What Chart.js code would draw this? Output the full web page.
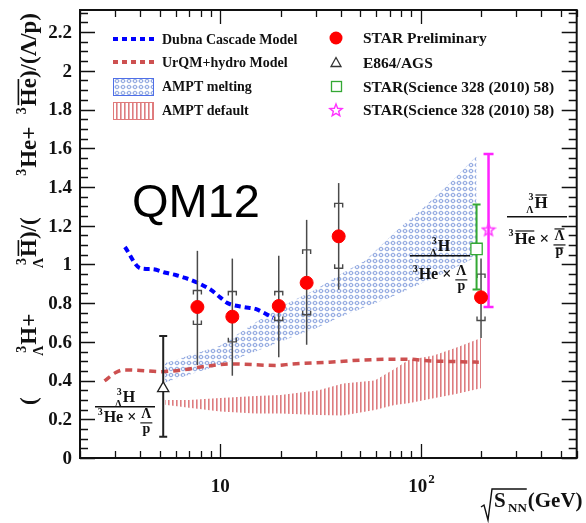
<!DOCTYPE html>
<html>
<head>
<meta charset="utf-8">
<script src="https://cdn.jsdelivr.net/npm/chart.js@4.4.1/dist/chart.umd.min.js"></script>
<style>
  html, body { margin: 0; padding: 0; background: #fff; }
  canvas { display: block; }
</style>
</head>
<body>
<canvas id="ratioChart" width="586" height="523"></canvas>
<script>
// STAR preliminary points (BES energies + 200 GeV)
const starEnergy = [7.7, 11.5, 19.6, 27, 39, 200];
const starRatio = [0.78, 0.73, 0.785, 0.905, 1.145, 0.83];
const starStatLow = [0.48, 0.425, 0.52, 0.585, 0.87, 0.62];
const starStatHigh = [1.07, 1.03, 1.045, 1.23, 1.42, 1.03];
const starSysLow = [0.69, 0.60, 0.71, 0.74, 0.98, 0.71];
const starSysHigh = [0.865, 0.86, 0.86, 1.075, 1.315, 0.95];

// E864 at AGS
const agsEnergy = [5.2];
const agsRatio = [0.36];
const agsLow = [0.11];
const agsHigh = [0.63];

// STAR Science 328 (2010) 58, matter and antimatter ratios
const sciEnergy = [190];
const sciRatio = [1.08];
const sciLow = [0.87];
const sciHigh = [1.31];
const antiEnergy = [218];
const antiRatio = [1.18];
const antiLow = [0.78];
const antiHigh = [1.57];

// model curves
const dubnaEnergy = [3.35, 4.0, 4.6, 5.35, 6.0, 6.7, 7.76, 9.0, 10.0, 10.9, 13.1, 15.0, 16.5, 18.4];
const dubnaRatio = [1.09, 0.98, 0.975, 0.957, 0.945, 0.93, 0.904, 0.868, 0.83, 0.80, 0.78, 0.77, 0.75, 0.725];
const urqmdEnergy = [2.65, 3.0, 3.3, 4.0, 5.0, 6.5, 8.0, 11.5, 19, 23, 35, 51, 70, 90, 105, 150, 195];
const urqmdRatio = [0.398, 0.44, 0.455, 0.452, 0.446, 0.455, 0.47, 0.486, 0.478, 0.486, 0.495, 0.506, 0.51, 0.51, 0.503, 0.498, 0.495];

// AMPT bands
const meltEnergy = [5.3, 7, 10, 15, 20, 25, 30, 40, 53, 75, 100, 140, 190];
const meltHigh = [0.49, 0.53, 0.58, 0.70, 0.78, 0.83, 0.87, 0.95, 1.02, 1.17, 1.28, 1.42, 1.56];
const meltLow = [0.39, 0.43, 0.48, 0.55, 0.60, 0.64, 0.67, 0.73, 0.78, 0.84, 0.90, 0.97, 1.04];
const defEnergy = [5.3, 7, 10, 15, 20, 31, 41, 59, 74, 87, 116, 150, 200];
const defHigh = [0.30, 0.30, 0.31, 0.32, 0.325, 0.35, 0.385, 0.40, 0.46, 0.506, 0.53, 0.57, 0.62];
const defLow = [0.275, 0.26, 0.24, 0.23, 0.23, 0.222, 0.219, 0.248, 0.274, 0.283, 0.308, 0.33, 0.36];

// axis labels
const yTickLabels = ['0', '0.2', '0.4', '0.6', '0.8', '1', '1.2', '1.4', '1.6', '1.8', '2', '2.2'];
const xMajor = [10, 100];

const SERIF = '"Liberation Serif", "DejaVu Serif", serif';
const INK = '#111';
const font = (size) => `bold ${size}px ${SERIF}`;
const pts = (xs, ys) => xs.map((x, i) => ({ x: x, y: ys[i] }));

const canvas = document.getElementById('ratioChart');
const ctx = canvas.getContext('2d');

// hatch fills
function makeTile(w, h, paint) {
  const c = document.createElement('canvas');
  c.width = w; c.height = h;
  paint(c.getContext('2d'));
  return c;
}
const blueTile = makeTile(6, 6, (g) => {
  g.strokeStyle = 'rgba(95,130,210,0.7)';
  g.lineWidth = 1;
  g.beginPath(); g.arc(3, 3, 1.8, 0, Math.PI * 2); g.stroke();
  g.fillStyle = 'rgba(120,150,220,0.3)';
  g.fillRect(0, 2.5, 6, 1);
});
const redTile = makeTile(4, 4, (g) => {
  g.fillStyle = 'rgba(214,92,96,0.8)';
  g.fillRect(0, 0, 1.6, 4);
});
const bluePattern = ctx.createPattern(blueTile, 'repeat');
const redPattern = ctx.createPattern(redTile, 'repeat');

// open five-point star
const starImg = makeTile(16, 16, (g) => {
  g.strokeStyle = '#ff33ff';
  g.lineWidth = 1.4;
  g.beginPath();
  for (let i = 0; i < 10; i++) {
    const r = i % 2 ? 2.8 : 6.5;
    const a = -Math.PI / 2 + i * Math.PI / 5;
    const px = 8 + r * Math.cos(a), py = 8.5 + r * Math.sin(a);
    i ? g.lineTo(px, py) : g.moveTo(px, py);
  }
  g.closePath(); g.stroke();
});

// ---- text helpers -------------------------------------------------------
function bar(g, x0, x1, y, size) {
  g.fillRect(x0, y, x1 - x0, Math.max(1, size * 0.07));
}

// nucleus with left mass number (and Λ below it for hypernuclei)
function iso(g, x, y, p, size, dry) {
  const small = Math.round(size * 0.6);
  g.font = font(small);
  const w3 = g.measureText('3').width;
  const wl = p.hyper ? g.measureText('Λ').width : 0;
  const pre = Math.max(w3, wl) + 1;
  if (!dry) {
    g.fillText('3', x + pre - 1 - w3, y - size * 0.45);
    if (p.hyper) g.fillText('Λ', x + pre - 1 - wl, y + size * 0.3);
  }
  g.font = font(size);
  const ws = g.measureText(p.iso).width;
  if (!dry) {
    g.fillText(p.iso, x + pre, y);
    if (p.anti) bar(g, x + pre + 1, x + pre + ws - 1, y - size * 0.8, size);
  }
  return pre + ws;
}

// small stacked Λ/p
function miniFrac(g, x, y, p, size, dry) {
  const s = Math.round(size * 0.85);
  g.font = font(s);
  const wt = g.measureText('Λ').width, wb = g.measureText('p').width;
  const w = Math.max(wt, wb) + 2;
  if (!dry) {
    g.fillText('Λ', x + (w - wt) / 2, y - size * 0.22);
    g.fillText('p', x + (w - wb) / 2, y + size * 0.66);
    bar(g, x, x + w, y + size * 0.02, size);
    if (p.anti) {
      bar(g, x + (w - wt) / 2, x + (w + wt) / 2, y - size * 0.92, size);
      bar(g, x + (w - wb) / 2, x + (w + wb) / 2, y + size * 0.2, size);
    }
  }
  return w;
}

// lays out a row of text pieces; {gap: w} pieces take w shares of the spare room
function run(g, x, y, parts, size, dry, gap = 0) {
  let cx = x;
  for (const p of parts) {
    if (typeof p === 'string') {
      g.font = font(size);
      if (!dry) g.fillText(p, cx, y);
      cx += g.measureText(p).width;
    } else if (p.gap) {
      cx += gap * p.gap;
    } else if (p.iso) {
      cx += iso(g, cx, y, p, size, dry);
    } else if (p.frac) {
      cx += miniFrac(g, cx, y, p, size, dry);
    }
  }
  return cx - x;
}

function runCentered(g, cx, y, parts, size) {
  const w = run(g, 0, 0, parts, size, true);
  run(g, cx - w / 2, y, parts, size, false);
}

function fraction(g, f, anti) {
  const num = [{ iso: 'H', hyper: true, anti: anti }];
  const den = [{ iso: 'He', anti: anti }, ' × ', { frac: true, anti: anti }];
  g.fillStyle = INK;
  runCentered(g, f.cx, f.numBase, num, f.size);
  g.fillRect(f.cx - f.half, f.lineY, f.half * 2, 1.5);
  runCentered(g, f.cx, f.denBase, den, f.size);
}

// ---- error bars -----------------------------------------------------------
function vbar(g, x, y0, y1, color, width, cap) {
  g.strokeStyle = color;
  g.lineWidth = width;
  g.beginPath();
  g.moveTo(x, y0); g.lineTo(x, y1);
  if (cap) {
    g.moveTo(x - cap, y0); g.lineTo(x + cap, y0);
    g.moveTo(x - cap, y1); g.lineTo(x + cap, y1);
  }
  g.stroke();
}

const errorBars = {
  id: 'errorBars',
  beforeDatasetDraw(chart, args) {
    if (args.index !== 3) return;
    const g = chart.ctx, xs = chart.scales.x, ys = chart.scales.y;
    g.save();
    starEnergy.forEach((e, i) => {
      const x = xs.getPixelForValue(e);
      vbar(g, x, ys.getPixelForValue(starStatLow[i]), ys.getPixelForValue(starStatHigh[i]), '#4a4a4a', 1.5, 0);
      // systematic brackets
      const hi = ys.getPixelForValue(starSysHigh[i]);
      const lo = ys.getPixelForValue(starSysLow[i]);
      g.lineWidth = 1.4;
      g.beginPath();
      g.moveTo(x - 4, hi + 4); g.lineTo(x - 4, hi); g.lineTo(x + 4, hi); g.lineTo(x + 4, hi + 4);
      g.moveTo(x - 4, lo - 4); g.lineTo(x - 4, lo); g.lineTo(x + 4, lo); g.lineTo(x + 4, lo - 4);
      g.stroke();
    });
    agsEnergy.forEach((e, i) => {
      vbar(g, xs.getPixelForValue(e), ys.getPixelForValue(agsLow[i]), ys.getPixelForValue(agsHigh[i]), '#222', 2, 4);
    });
    sciEnergy.forEach((e, i) => {
      vbar(g, xs.getPixelForValue(e), ys.getPixelForValue(sciLow[i]), ys.getPixelForValue(sciHigh[i]), '#34a834', 2, 4);
    });
    antiEnergy.forEach((e, i) => {
      vbar(g, xs.getPixelForValue(e), ys.getPixelForValue(antiLow[i]), ys.getPixelForValue(antiHigh[i]), '#ff22ff', 2.5, 5);
    });
    g.restore();
  }
};

// ---- frame, ticks, labels, legend, annotations --------------------------
const decorations = {
  id: 'decorations',
  afterDatasetsDraw(chart) {
    const g = chart.ctx, a = chart.chartArea;
    const xs = chart.scales.x, ys = chart.scales.y;
    g.save();
    g.strokeStyle = INK;
    g.lineWidth = 1.3;
    g.beginPath();
    // y ticks on both sides
    for (let k = 0; k <= 46; k++) {
      const v = k * 0.05;
      if (v > ys.max) break;
      const y = Math.round(ys.getPixelForValue(v)) + 0.5;
      const len = k % 4 === 0 ? 15 : 8;
      g.moveTo(a.left, y); g.lineTo(a.left + len, y);
      g.moveTo(a.right, y); g.lineTo(a.right - len, y);
    }
    // x ticks on bottom and top
    for (let dec = 1; dec <= 100; dec *= 10) {
      for (let m = 1; m <= 9; m++) {
        const v = m * dec;
        if (v < xs.min || v > xs.max) continue;
        const x = Math.round(xs.getPixelForValue(v)) + 0.5;
        const len = m === 1 ? 14 : 7;
        g.moveTo(x, a.bottom); g.lineTo(x, a.bottom - len);
        g.moveTo(x, a.top); g.lineTo(x, a.top + len);
      }
    }
    g.stroke();
    g.lineWidth = 2;
    g.strokeRect(a.left, a.top, a.right - a.left, a.bottom - a.top);

    // tick labels
    g.fillStyle = INK;
    g.font = font(19);
    g.textAlign = 'right';
    g.textBaseline = 'middle';
    yTickLabels.forEach((t) => {
      g.fillText(t, a.left - 8, ys.getPixelForValue(parseFloat(t)) + 1);
    });
    g.textAlign = 'left';
    g.textBaseline = 'alphabetic';
    xMajor.forEach((v) => {
      const x = xs.getPixelForValue(v);
      g.font = font(19);
      const w10 = g.measureText('10').width;
      if (v === 10) {
        g.fillText('10', x - w10 / 2, a.bottom + 34);
      } else {
        g.fillText('10', x - w10 / 2 - 3, a.bottom + 34);
        g.font = font(13);
        g.fillText('2', x + w10 / 2 - 2, a.bottom + 25);
      }
    });

    // x title: √S_NN (GeV)
    g.font = font(21);
    g.fillText('S', 494, 507);
    g.font = font(13);
    g.fillText('NN', 508, 512);
    const nnEnd = 508 + g.measureText('NN').width;
    g.font = font(21);
    g.fillText('(GeV)', nnEnd + 1, 507);
    g.lineWidth = 1.4;
    g.beginPath();
    g.moveTo(481, 507); g.lineTo(484, 505); g.lineTo(488, 520); g.lineTo(492, 489); g.lineTo(nnEnd, 489);
    g.stroke();

    // y title, rotated, spread over the axis height
    const title = ['(', { gap: 1 }, { iso: 'H', hyper: true }, '+', { gap: 1.1 }, { iso: 'H', hyper: true, anti: true },
      ')/(', { gap: 1 }, { iso: 'He' }, '+', { gap: 0.3 }, { iso: 'He', anti: true }, ')/(Λ/p)'];
    const ts = 23;
    const natural = run(g, 0, 0, title, ts, true, 0);
    const gap = Math.max(4, (392 - natural) / 3.4);
    const total = run(g, 0, 0, title, ts, true, gap);
    g.save();
    g.translate(36, 209);
    g.rotate(-Math.PI / 2);
    run(g, -total / 2, 0, title, ts, false, gap);
    g.restore();

    // legend, left column
    g.font = font(14);
    g.fillStyle = INK;
    g.fillText('Dubna Cascade Model', 162, 44);
    g.fillText('UrQM+hydro Model', 162, 67);
    g.fillText('AMPT melting', 162, 91);
    g.fillText('AMPT default', 162, 115);
    g.lineWidth = 4;
    g.setLineDash([5, 4]);
    g.strokeStyle = '#0000ff';
    g.beginPath(); g.moveTo(113, 39); g.lineTo(154, 39); g.stroke();
    g.strokeStyle = '#cd5050';
    g.beginPath(); g.moveTo(113, 62); g.lineTo(154, 62); g.stroke();
    g.setLineDash([]);
    g.lineWidth = 1;
    g.fillStyle = bluePattern;
    g.fillRect(113, 78, 40, 17);
    g.strokeStyle = '#4f6fe8';
    g.strokeRect(113.5, 78.5, 40, 17);
    g.fillStyle = redPattern;
    g.fillRect(113, 102, 40, 17);
    g.strokeStyle = '#e07a7a';
    g.strokeRect(113.5, 102.5, 40, 17);

    // legend, right column
    g.fillStyle = INK;
    g.font = font(15.5);
    g.fillText('STAR Preliminary', 363, 43);
    g.fillText('E864/AGS', 363, 68);
    g.fillText('STAR(Science 328 (2010) 58)', 363, 92);
    g.fillText('STAR(Science 328 (2010) 58)', 363, 115);
    g.fillStyle = '#ff0000';
    g.beginPath(); g.arc(336, 38, 6.5, 0, Math.PI * 2); g.fill();
    g.strokeStyle = '#333';
    g.lineWidth = 1.3;
    g.beginPath(); g.moveTo(336, 57.5); g.lineTo(341, 66.5); g.lineTo(331, 66.5); g.closePath(); g.stroke();
    g.strokeStyle = '#34a834';
    g.strokeRect(331.5, 81.5, 10, 10);
    g.drawImage(starImg, 328, 102);

    // QM12 tag
    g.fillStyle = '#000';
    g.font = '47px "Liberation Sans", Arial, sans-serif';
    g.fillText('QM12', 132, 217);

    // ratio definitions
    fraction(g, { cx: 125, lineY: 406, half: 30, numBase: 402, denBase: 422, size: 16 }, false);
    fraction(g, { cx: 440, lineY: 255, half: 30, numBase: 251, denBase: 279, size: 16 }, false);
    fraction(g, { cx: 537, lineY: 216, half: 30, numBase: 208, denBase: 244, size: 17 }, true);
    g.restore();
  }
};

new Chart(ctx, {
  type: 'scatter',
  data: {
    datasets: [
      {
        label: 'STAR Preliminary',
        data: pts(starEnergy, starRatio),
        pointStyle: 'circle', pointRadius: 6.5,
        backgroundColor: '#ff0000', borderColor: '#ff0000'
      },
      {
        label: 'E864/AGS',
        data: pts(agsEnergy, agsRatio),
        pointStyle: 'triangle', pointRadius: 6.5,
        backgroundColor: '#ffffff', borderColor: '#222', borderWidth: 1.3
      },
      {
        label: 'STAR(Science 328 (2010) 58)',
        data: pts(sciEnergy, sciRatio),
        pointStyle: 'rect', pointRadius: 8,
        backgroundColor: '#ffffff', borderColor: '#34a834', borderWidth: 1.3
      },
      {
        label: 'STAR(Science 328 (2010) 58) anti',
        data: pts(antiEnergy, antiRatio),
        pointStyle: starImg
      },
      {
        label: 'Dubna Cascade Model',
        data: pts(dubnaEnergy, dubnaRatio),
        showLine: true, pointRadius: 0,
        borderColor: '#0000ff', borderWidth: 4, borderDash: [6, 4],
        cubicInterpolationMode: 'monotone'
      },
      {
        label: 'UrQM+hydro Model',
        data: pts(urqmdEnergy, urqmdRatio),
        showLine: true, pointRadius: 0,
        borderColor: '#cd5050', borderWidth: 3.5, borderDash: [7, 5],
        cubicInterpolationMode: 'monotone'
      },
      {
        label: 'AMPT melting',
        data: pts(meltEnergy, meltHigh),
        showLine: true, pointRadius: 0, borderWidth: 0,
        borderColor: 'rgba(0,0,0,0)', backgroundColor: bluePattern,
        fill: '+1'
      },
      {
        label: 'AMPT melting low',
        data: pts(meltEnergy, meltLow),
        showLine: true, pointRadius: 0, borderWidth: 0, borderColor: 'rgba(0,0,0,0)'
      },
      {
        label: 'AMPT default',
        data: pts(defEnergy, defHigh),
        showLine: true, pointRadius: 0, borderWidth: 0,
        borderColor: 'rgba(0,0,0,0)', backgroundColor: redPattern,
        fill: '+1'
      },
      {
        label: 'AMPT default low',
        data: pts(defEnergy, defLow),
        showLine: true, pointRadius: 0, borderWidth: 0, borderColor: 'rgba(0,0,0,0)'
      }
    ]
  },
  options: {
    responsive: false,
    animation: false,
    events: [],
    layout: { padding: { top: 10, right: 1, left: 0, bottom: 0 } },
    plugins: { legend: { display: false }, tooltip: { enabled: false } },
    scales: {
      x: {
        type: 'logarithmic', min: 2, max: 600,
        ticks: { display: false }, grid: { display: false }, border: { display: false },
        afterFit: (s) => { s.height = 65; }
      },
      y: {
        type: 'linear', min: 0, max: 2.314,
        ticks: { display: false }, grid: { display: false }, border: { display: false },
        afterFit: (s) => { s.width = 80; }
      }
    }
  },
  plugins: [errorBars, decorations]
});
</script>
</body>
</html>
